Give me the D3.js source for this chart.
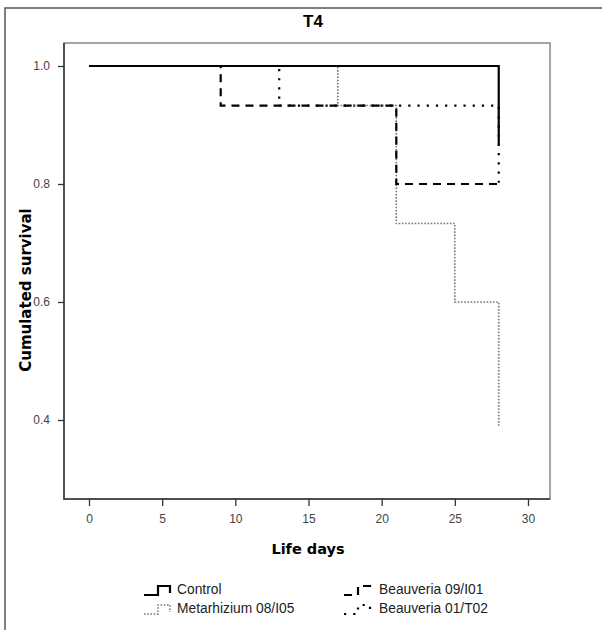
<!DOCTYPE html>
<html>
<head>
<meta charset="utf-8">
<script src="https://cdn.jsdelivr.net/npm/d3@7"></script>
<style>
  body { margin: 0; background: #fff; }
  svg { display: block; }
</style>
</head>
<body>
<div id="chart"></div>
<script>
"use strict"

// survival curves (time in days, cumulated survival)
const controlDays = [0, 28]
const controlSurv = [1.0, 0.867]

const b0901Days = [0, 9, 21, 28]
const b0901Surv = [1.0, 0.933, 0.8, 0.8]

const metaDays = [0, 17, 21, 25, 28]
const metaSurv = [1.0, 0.933, 0.733, 0.6, 0.39]

const b01t02Days = [0, 13, 28]
const b01t02Surv = [1.0, 0.933, 0.8]

const xTicks = [0, 5, 10, 15, 20, 25, 30]
const yTicks = [0.4, 0.6, 0.8, 1.0]

const seriesNames = ["Control", "Beauveria 09/I01", "Metarhizium 08/I05", "Beauveria 01/T02"]

const width = 602
const height = 630
const box = { left: 64, right: 550, top: 43, bottom: 499 }

const styles = {
  "Control": { stroke: "#000", width: 2.2, dash: null },
  "Beauveria 09/I01": { stroke: "#000", width: 2.2, dash: "8 6" },
  "Metarhizium 08/I05": { stroke: "#777", width: 1.6, dash: "1.6 1.6" },
  "Beauveria 01/T02": { stroke: "#000", width: 2.2, dash: "2.2 7" }
}

const series = [
  { name: "Beauveria 01/T02", days: b01t02Days, surv: b01t02Surv },
  { name: "Metarhizium 08/I05", days: metaDays, surv: metaSurv },
  { name: "Beauveria 09/I01", days: b0901Days, surv: b0901Surv },
  { name: "Control", days: controlDays, surv: controlSurv }
]

const svg = d3.select("#chart").append("svg")
  .attr("width", width)
  .attr("height", height)

// outer frame (only top and left edges show)
svg.append("path")
  .attr("d", `M5,${height} L5,8 L${width},8`)
  .attr("fill", "none")
  .attr("stroke", "#555")
  .attr("stroke-width", 1.5)

const x = d3.scaleLinear()
  .domain([0, 30])
  .range([89, 528])

const y = d3.scaleLinear()
  .domain([0.4, 1.0])
  .range([420, 66])

// plot box
svg.append("rect")
  .attr("x", box.left)
  .attr("y", box.top)
  .attr("width", box.right - box.left)
  .attr("height", box.bottom - box.top)
  .attr("fill", "none")
  .attr("stroke", "#888")
  .attr("stroke-width", 1.5)

const xAxis = svg.append("g")
  .attr("transform", `translate(0,${box.bottom})`)
  .call(d3.axisBottom(x).tickValues(xTicks).tickSize(7).tickPadding(8).tickFormat(d3.format("d")))

const yAxis = svg.append("g")
  .attr("transform", `translate(${box.left},0)`)
  .call(d3.axisLeft(y).tickValues(yTicks).tickSize(6).tickPadding(8).tickFormat(d3.format(".1f")))

for (let axis of [xAxis, yAxis]) {
  axis.select(".domain").remove()
  axis.selectAll("line").attr("stroke", "#333").attr("stroke-width", 1.3)
  axis.attr("font-size", null).attr("font-family", null)
  axis.selectAll("text")
    .attr("fill", "#444")
    .attr("font-family", "Liberation Sans, Arial, sans-serif")
    .attr("font-size", "12px")
}

// darker left and bottom edges
svg.append("path")
  .attr("d", `M${box.left},${box.top} L${box.left},${box.bottom} L${box.right},${box.bottom}`)
  .attr("fill", "none")
  .attr("stroke", "#333")
  .attr("stroke-width", 1.5)

const line = d3.line()
  .x((d) => x(d[0]))
  .y((d) => y(d[1]))
  .curve(d3.curveStepAfter)

svg.append("g")
  .attr("class", "curves")
  .selectAll("path")
  .data(series)
  .enter()
    .append("path")
    .attr("d", (s) => line(s.days.map((t, i) => [t, s.surv[i]])))
    .attr("fill", "none")
    .attr("stroke", (s) => styles[s.name].stroke)
    .attr("stroke-width", (s) => styles[s.name].width)
    .attr("stroke-dasharray", (s) => styles[s.name].dash)

// titles
svg.append("text")
  .attr("x", 313)
  .attr("y", 27)
  .attr("text-anchor", "middle")
  .attr("font-family", "Liberation Sans, Arial, sans-serif")
  .attr("font-weight", "bold")
  .attr("font-size", "17px")
  .text("T4")

svg.append("text")
  .attr("x", 308)
  .attr("y", 554)
  .attr("text-anchor", "middle")
  .attr("font-family", "DejaVu Sans, Verdana, sans-serif")
  .attr("font-weight", "bold")
  .attr("font-size", "14.5px")
  .text("Life days")

svg.append("text")
  .attr("transform", "translate(31,290) rotate(-90)")
  .attr("text-anchor", "middle")
  .attr("font-family", "DejaVu Sans, Verdana, sans-serif")
  .attr("font-weight", "bold")
  .attr("font-size", "15px")
  .text("Cumulated survival")

// legend: little step symbols like the SPSS output
const legendItems = [
  { name: seriesNames[0], sx: 144, ty: 594 },
  { name: seriesNames[1], sx: 344, ty: 594 },
  { name: seriesNames[2], sx: 144, ty: 613 },
  { name: seriesNames[3], sx: 344, ty: 613 }
]

const legend = svg.append("g").attr("class", "legend")

legend.selectAll("path")
  .data(legendItems)
  .enter()
    .append("path")
    .attr("d", (d) => `M${d.sx},${d.ty + 1} h14 v-9 h12 v7`)
    .attr("fill", "none")
    .attr("stroke", (d) => styles[d.name].stroke)
    .attr("stroke-width", (d) => styles[d.name].width)
    .attr("stroke-dasharray", (d) => styles[d.name].dash)

legend.selectAll("text")
  .data(legendItems)
  .enter()
    .append("text")
    .attr("x", (d) => d.sx + (d.sx > 300 ? 35 : 33))
    .attr("y", (d) => d.ty)
    .attr("font-family", "Liberation Sans, Arial, sans-serif")
    .attr("font-size", "13.8px")
    .attr("fill", "#222")
    .text((d) => d.name)
</script>
</body>
</html>
